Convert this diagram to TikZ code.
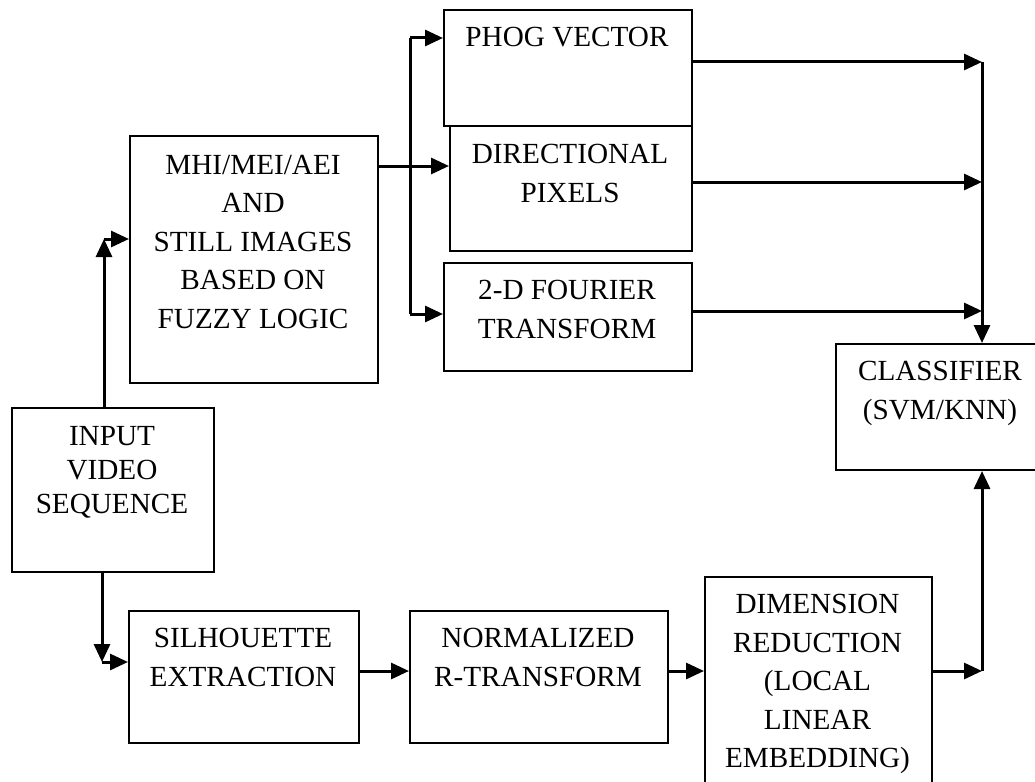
\documentclass[tikz,border=0pt]{standalone}
\usepackage{fontspec}
\setmainfont{Liberation Serif}
\usetikzlibrary{arrows.meta}
\begin{document}
\begin{tikzpicture}[x=1pt,y=-1pt,
  box/.style={draw, line width=2pt, inner sep=0pt, anchor=north west},
  txt/.style={anchor=north, inner sep=0pt, align=center, font=\fontsize{29.2}{38.5}\selectfont},
  txtn/.style={txt, font=\fontsize{29.2}{34.3}\selectfont},
  conn/.style={line width=3pt},
  arr/.style={conn, -{Triangle[length=18pt,width=16pt]}}]
\useasboundingbox (0,0) rectangle (1035,781);
\fill[white] (0,0) rectangle (1035,781);
\clip (0,0) rectangle (1035,781);
% boxes
\node[box, minimum width=202pt, minimum height=164pt] (input) at (11,407) {};
\node[box, minimum width=248pt, minimum height=247pt] (mhi) at (129,135) {};
\node[box, minimum width=248pt, minimum height=116pt] (phog) at (443,9) {};
\node[box, minimum width=242pt, minimum height=125pt] (dir) at (449,125) {};
\node[box, minimum width=248pt, minimum height=108pt] (four) at (443,262) {};
\node[box, minimum width=210pt, minimum height=126pt] (cls) at (835,343) {};
\node[box, minimum width=230pt, minimum height=132pt] (sil) at (128,610) {};
\node[box, minimum width=258pt, minimum height=132pt] (norm) at (409,610) {};
\node[box, minimum width=227pt, minimum height=230pt] (dim) at (704,576) {};
% texts
\node[txtn] (inputt) at (112,426) {INPUT\\VIDEO\\SEQUENCE};
\node[txt] (mhit) at (253,155) {MHI/MEI/AEI\\AND\\STILL IMAGES\\BASED ON\\FUZZY LOGIC};
\node[txt] (phogt) at (567,27) {PHOG VECTOR};
\node[txt] (dirt) at (570,144) {DIRECTIONAL\\PIXELS};
\node[txt] (fourt) at (567,280) {2-D FOURIER\\TRANSFORM};
\node[txt] (clst) at (940,361) {CLASSIFIER\\(SVM/KNN)};
\node[txt] (silt) at (243,628) {SILHOUETTE\\EXTRACTION};
\node[txt] (normt) at (538,628) {NORMALIZED\\R-TRANSFORM};
\node[txt] (dimt) at (817.5,594) {DIMENSION\\REDUCTION\\(LOCAL\\LINEAR\\EMBEDDING)};
% connector points
\coordinate (c1) at (104,239);
\coordinate (ymd) at (0,166);
\coordinate (b1) at (410,38);
\coordinate (b2) at (410,314);
\coordinate (r1) at (982,62);
\coordinate (r2) at (982,182);
\coordinate (r3) at (982,311);
\coordinate (r4) at (982,671);
\coordinate (d1) at (102,662);
\coordinate (s1) at (0,671);
% upper path
\draw[arr] (c1 |- input.north) -- (c1);
\draw[arr] (c1) -- (c1 -| mhi.west);
\draw[arr] (mhi.east |- ymd) -- (dir.west |- ymd);
\draw[conn] (b1) -- (b2);
\draw[arr] (b1) -- (b1 -| phog.west);
\draw[arr] (b2) -- (b2 -| four.west);
\draw[arr] (r1 -| phog.east) -- (r1);
\draw[arr] (r2 -| dir.east) -- (r2);
\draw[arr] (r3 -| four.east) -- (r3);
\draw[arr] (r1) -- (r1 |- cls.north);
% lower path
\draw[arr] (d1 |- input.south) -- (d1);
\draw[arr] (d1) -- (d1 -| sil.west);
\draw[arr] (sil.east |- s1) -- (norm.west |- s1);
\draw[arr] (norm.east |- s1) -- (dim.west |- s1);
\draw[arr] (dim.east |- r4) -- (r4);
\draw[arr] (r4) -- (r4 |- cls.south);
\end{tikzpicture}
\end{document}
